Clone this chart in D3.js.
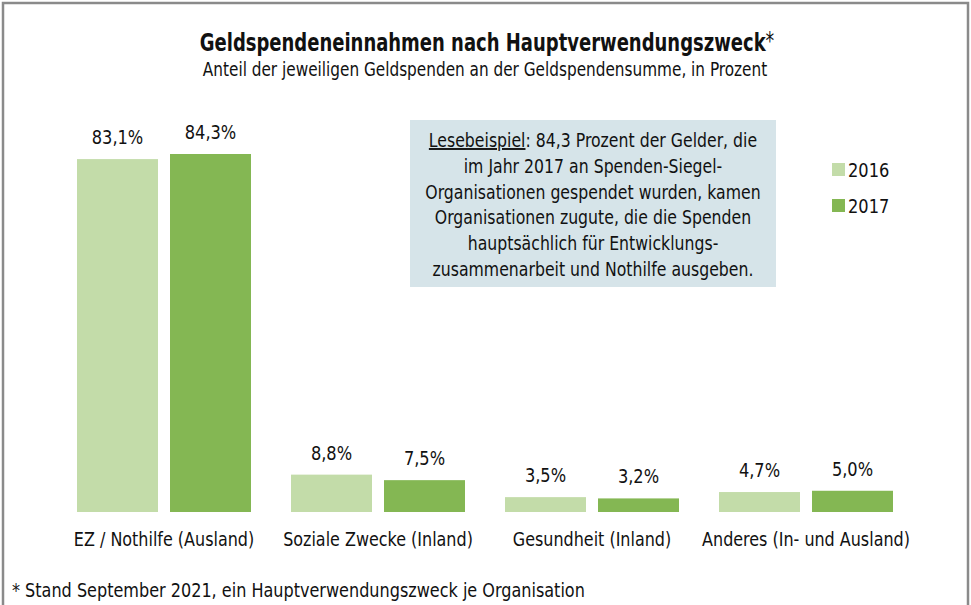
<!DOCTYPE html>
<html><head><meta charset="utf-8">
<script src="https://cdn.jsdelivr.net/npm/d3@7"></script>
<style>
body{margin:0;background:#fff;}
text{font-family:"DejaVu Sans Condensed","Liberation Sans Narrow","Roboto",sans-serif;fill:#111;}
</style></head>
<body><svg id="c" width="971" height="605"></svg>
<script>
const categories = ["EZ / Nothilfe (Ausland)", "Soziale Zwecke (Inland)", "Gesundheit (Inland)", "Anderes (In- und Ausland)"];
const series = ["2016", "2017"];
const values2016 = [83.1, 8.8, 3.5, 4.7];
const values2017 = [84.3, 7.5, 3.2, 5.0];
const colors = ["#c3dca9", "#84b753"];
const title = "Geldspendeneinnahmen nach Hauptverwendungszweck";
const subtitle = "Anteil der jeweiligen Geldspenden an der Geldspendensumme, in Prozent";
const footnote = "* Stand September 2021, ein Hauptverwendungszweck je Organisation";
const noteLines = ["Lesebeispiel: 84,3 Prozent der Gelder, die", "im Jahr 2017 an Spenden-Siegel-", "Organisationen gespendet wurden, kamen", "Organisationen zugute, die die Spenden", "hauptsächlich für Entwicklungs-", "zusammenarbeit und Nothilfe ausgeben."];

const svg = d3.select("#c");
const fmt = v => d3.format(".1f")(v).replace(".", ",") + "%";
const place = (sel, x, y, sx) => sel.attr("x",0).attr("y",0).attr("transform",`translate(${x},${y}) scale(${sx},1)`);

// border
svg.append("path").attr("d","M3,606 V3 H968 V606").attr("fill","none").attr("stroke","#8a8a8a").attr("stroke-width",2.5);

// title
const t = svg.append("text").attr("text-anchor","middle").call(place, 487, 51, 0.8);
t.append("tspan").text(title).attr("font-weight","bold").attr("font-size",25);
t.append("tspan").text("*").attr("font-size",24).attr("dy",-2);
svg.append("text").attr("text-anchor","middle").attr("font-size",19).text(subtitle).call(place, 485, 76, 0.895);

// scales
const x0 = d3.scaleBand().domain(categories).range([57, 913]).paddingInner(40/214).paddingOuter(20/214);
const x1 = d3.scaleBand().domain(series).range([0, x0.bandwidth()]).paddingInner(12/93);
const y = d3.scaleLinear().domain([0, 84.3]).range([512, 154]);

const data = categories.map((c,i)=>({cat:c, vals:[values2016[i], values2017[i]]}));
const g = svg.selectAll("g.grp").data(data).join("g").attr("transform", d=>`translate(${x0(d.cat)},0)`);
g.selectAll("rect").data(d=>d.vals.map((v,j)=>({s:series[j], v, j}))).join("rect")
  .attr("x", d=>x1(d.s)).attr("width", x1.bandwidth())
  .attr("y", d=>y(d.v)).attr("height", d=>y(0)-y(d.v))
  .attr("fill", d=>colors[d.j]);
g.selectAll("text.val").data(d=>d.vals.map((v,j)=>({s:series[j], v, j}))).join("text")
  .attr("class","val").attr("text-anchor","middle").attr("font-size",19).text(d=>fmt(d.v))
  .each(function(d){ d3.select(this).call(place, x1(d.s)+x1.bandwidth()/2, y(d.v)-15, 0.95); });

// category axis labels
const xAxis = d3.axisBottom(x0).tickSize(0).tickPadding(0);
const ax = svg.append("g").attr("transform","translate(0,512)").call(xAxis);
ax.select(".domain").remove();
ax.attr("font-family",null).attr("font-size",null);
ax.selectAll("text").attr("font-size",19).attr("dy",0).attr("fill","#111").call(place, 0, 34, 0.935);

// legend
const lg = svg.append("g");
series.forEach((s,i)=>{
  lg.append("rect").attr("x",832).attr("y",163+i*36).attr("width",13).attr("height",13).attr("fill",colors[i]);
  lg.append("text").attr("font-size",19).text(s).call(place, 848, 177+i*36, 0.95);
});

// note box
svg.append("rect").attr("x",410).attr("y",120).attr("width",366).attr("height",167).attr("fill","#d6e4e9");
const nt = svg.append("g");
noteLines.forEach((line,i)=>{
  const tx = nt.append("text").attr("text-anchor","middle").attr("font-size",19).call(place, 593, 147+i*25.8, 0.92);
  if(i===0){
    tx.append("tspan").text("Lesebeispiel").attr("text-decoration","underline");
    tx.append("tspan").text(line.slice("Lesebeispiel".length));
  } else tx.text(line);
});

// footnote
svg.append("text").attr("font-size",19).text(footnote).call(place, 12, 597, 0.94);
</script></body></html>
